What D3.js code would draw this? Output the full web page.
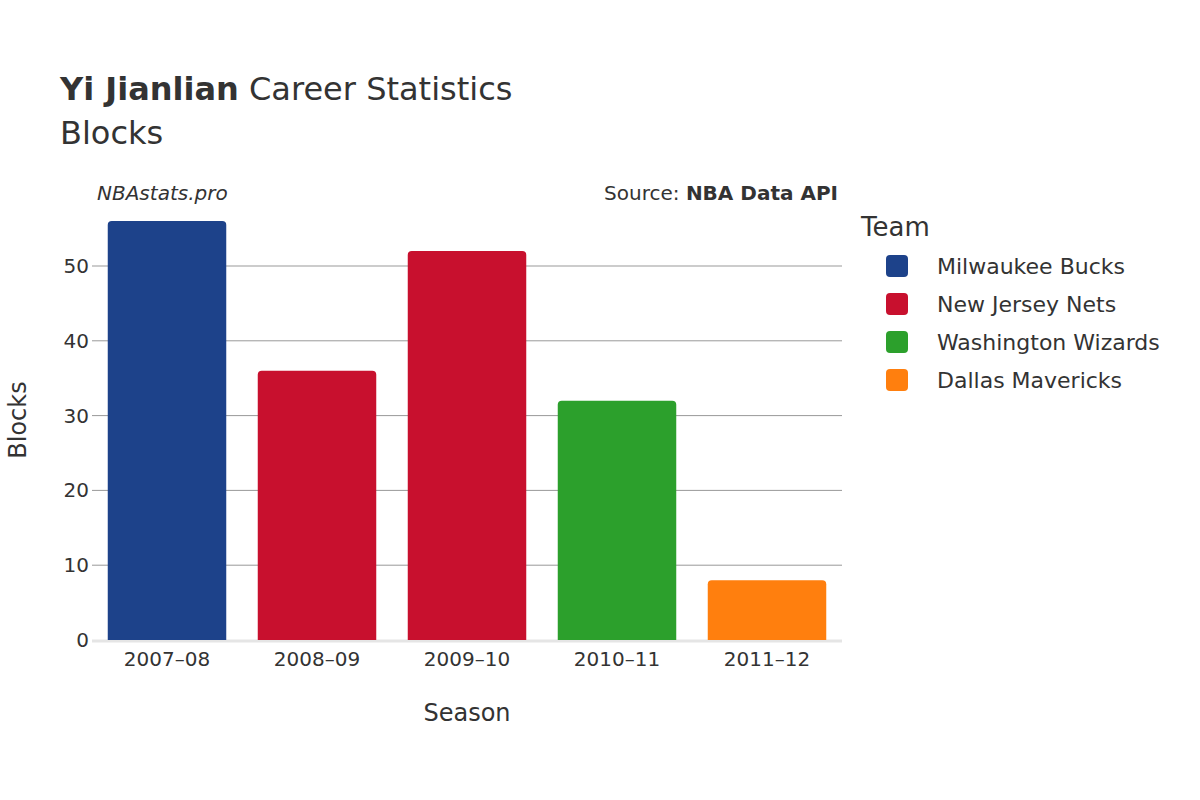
<!DOCTYPE html><html><head><meta charset="utf-8"><script src="https://cdn.jsdelivr.net/npm/d3@7"></script>
<style>body{margin:0;background:#fff}text{font-family:"DejaVu Sans",sans-serif;fill:#333}</style></head><body>
<svg id="c" width="1200" height="800"></svg>
<script>
const seasons=["2007–08","2008–09","2009–10","2010–11","2011–12"];
const blocks=[56,36,52,32,8];
const teams=["Milwaukee Bucks","New Jersey Nets","New Jersey Nets","Washington Wizards","Dallas Mavericks"];
const legendTeams=["Milwaukee Bucks","New Jersey Nets","Washington Wizards","Dallas Mavericks"];
const colors=["#1d428a","#c8102e","#2ca02c","#ff7f0e"];
const yTicks=[0,10,20,30,40,50];
const svg=d3.select("#c");
const L=92,R=842,B=640;
const x=d3.scaleBand().domain(seasons).range([L,R]).paddingInner(0.21).paddingOuter(0.105);
const y=d3.scaleLinear().domain([0,50]).range([B,266]);
const col=d3.scaleOrdinal().domain(legendTeams).range(colors);
svg.append("g").selectAll("line").data(yTicks.slice(1)).join("line")
 .attr("x1",L).attr("x2",R).attr("y1",d=>y(d)).attr("y2",d=>y(d)).attr("stroke","#999").attr("stroke-width",1);
svg.append("line").attr("x1",L).attr("x2",R).attr("y1",B+1).attr("y2",B+1).attr("stroke","#e5e5e5").attr("stroke-width",3);
svg.append("g").selectAll("text").data(yTicks).join("text").attr("x",L-3).attr("y",d=>y(d)+7).attr("text-anchor","end").attr("font-size",20).text(d=>d);
svg.append("g").selectAll("path").data(seasons).join("path").attr("fill",(d,i)=>col(teams[i]))
 .attr("d",(d,i)=>{const x0=x(d),w=x.bandwidth(),t=y(blocks[i]),r=4;
  return `M${x0},${B}V${t+r}Q${x0},${t} ${x0+r},${t}H${x0+w-r}Q${x0+w},${t} ${x0+w},${t+r}V${B}Z`;});
svg.append("g").selectAll("text").data(seasons).join("text").attr("x",d=>x(d)+x.bandwidth()/2).attr("y",666).attr("text-anchor","middle").attr("font-size",20).text(d=>d);
svg.append("text").attr("x",467).attr("y",721).attr("text-anchor","middle").attr("font-size",24).text("Season");
svg.append("text").attr("transform","translate(26,420) rotate(-90)").attr("text-anchor","middle").attr("font-size",24).text("Blocks");
const t=svg.append("text").attr("x",60).attr("y",100).attr("font-size",32);
t.append("tspan").attr("font-weight","bold").text("Yi Jianlian");t.append("tspan").text(" Career Statistics");
svg.append("text").attr("x",60).attr("y",144).attr("font-size",32).text("Blocks");
svg.append("text").attr("x",97).attr("y",200).attr("font-size",20).attr("font-style","italic").text("NBAstats.pro");
const s=svg.append("text").attr("x",838).attr("y",200).attr("font-size",20).attr("text-anchor","end");
s.append("tspan").text("Source: ");s.append("tspan").attr("font-weight","bold").text("NBA Data API");
svg.append("text").attr("x",861).attr("y",236).attr("font-size",26).text("Team");
const lg=svg.append("g").selectAll("g").data(legendTeams).join("g").attr("transform",(d,i)=>`translate(0,${266+i*38})`);
lg.append("rect").attr("x",886).attr("y",-11).attr("width",22).attr("height",22).attr("rx",4).attr("fill",d=>col(d));
lg.append("text").attr("x",937).attr("y",8).attr("font-size",22).text(d=>d);
</script></body></html>
